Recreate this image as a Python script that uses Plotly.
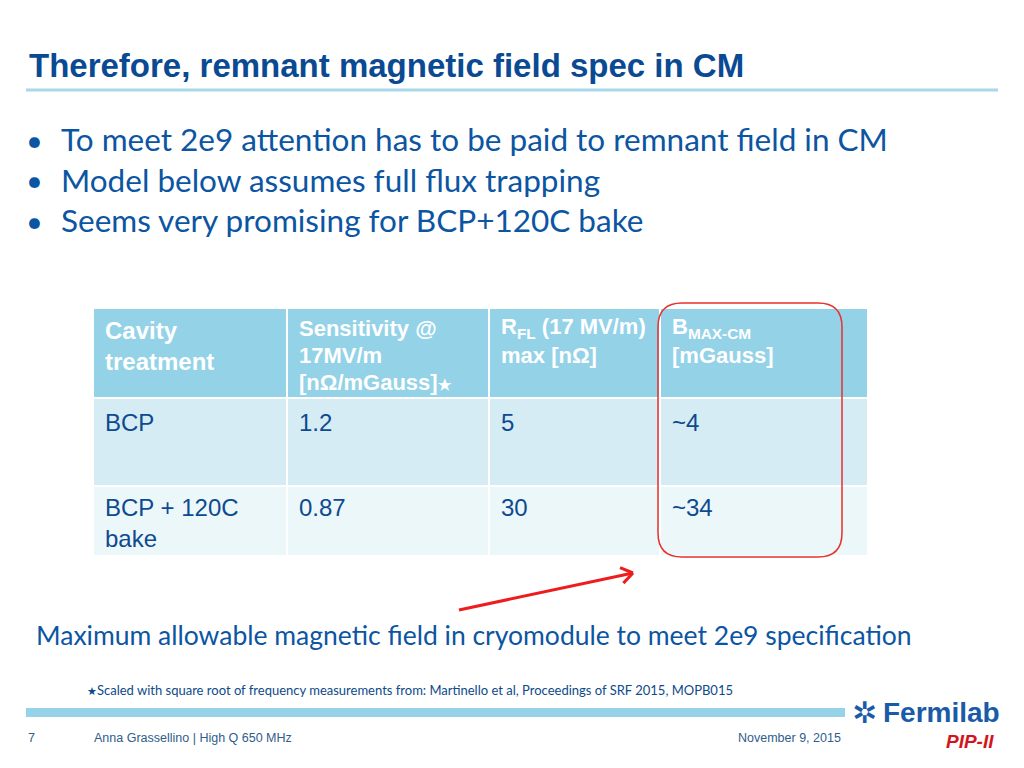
import math
import plotly.graph_objects as go

# ---------------- data ----------------
title_text = "Therefore, remnant magnetic field spec in CM"
bullets = [
    "To meet 2e9 attention has to be paid to remnant field in CM",
    "Model below assumes full flux trapping",
    "Seems very promising for BCP+120C bake",
]
headers = [
    "Cavity<br>treatment",
    "Sensitivity @<br>17MV/m<br>[nΩ/mGauss]<span style='font-size:15px'>★</span>",
    "R<sub>FL</sub> (17 MV/m)<br>max [nΩ]",
    "B<sub>MAX-CM</sub><br>[mGauss]",
]
treatment = ["BCP", "BCP + 120C<br>bake"]
sensitivity = ["1.2", "0.87"]
r_fl_max = ["5", "30"]
b_max_cm = ["~4", "~34"]
caption = "Maximum allowable magnetic field in cryomodule to meet 2e9 specification"
footnote = "<span style='font-size:11px'>★</span>Scaled with square root of frequency measurements from: Martinello et al, Proceedings of SRF 2015, MOPB015"
footer_page = "7"
footer_author = "Anna Grassellino | High Q 650 MHz"
footer_date = "November 9, 2015"

# ---------------- layout geometry (pixels) ----------------
col_edges = [93, 287, 489, 660, 868]
row_edges = [308, 398, 486, 556]

TITLE_BLUE = "#0a4a92"
TEXT_BLUE = "#0b55a2"
CELL_BLUE = "#0d4a90"

fig = go.Figure()

# table background cells
fig.add_trace(go.Heatmap(
    x=col_edges, y=row_edges,
    z=[[0, 0, 0, 0], [1, 1, 1, 1], [2, 2, 2, 2]],
    zmin=0, zmax=2,
    colorscale=[[0, "#94d2e8"], [0.5, "#d6ecf5"], [1, "#ecf7fa"]],
    showscale=False, xgap=2, ygap=2, hoverinfo="skip",
))

ann = []

def add_lines(text, x, y0, spacing, size, color, family="Liberation Sans", bold=False):
    for i, line in enumerate(text.split("<br>")):
        t = f"<b>{line}</b>" if bold else line
        ann.append(dict(x=x, y=y0 + i * spacing, xref="x", yref="y", text=t,
                        showarrow=False, xanchor="left", yanchor="middle",
                        font=dict(family=family, size=size, color=color)))

# header text
pads = [c + 10 for c in col_edges[:-1]]
add_lines(headers[0], pads[0], 330, 31, 24, "white", bold=True)
for j in range(1, 4):
    add_lines(headers[j], pads[j], 328, 27, 22, "white", bold=True)

# body text
rows = [treatment, sensitivity, r_fl_max, b_max_cm]
row_tops = [422, 507]
for j, col in enumerate(rows):
    for i, val in enumerate(col):
        add_lines(val, pads[j], row_tops[i], 31, 24, CELL_BLUE)

# title
ann.append(dict(x=27, y=65, xref="x", yref="y", text=f"<b>{title_text}</b>",
                showarrow=False, xanchor="left", yanchor="middle",
                font=dict(family="Liberation Sans Narrow, Liberation Sans", size=33, color=TITLE_BLUE)))

# bullets
for i, b in enumerate(bullets):
    y = 139 + i * 40.5
    ann.append(dict(x=24, y=y, xref="x", yref="y", text="•", showarrow=False,
                    xanchor="left", yanchor="middle",
                    font=dict(family="Lato", size=29, color=TEXT_BLUE)))
    ann.append(dict(x=59, y=y, xref="x", yref="y", text=b, showarrow=False,
                    xanchor="left", yanchor="middle",
                    font=dict(family="Lato", size=31.5, color=TEXT_BLUE)))

# caption
ann.append(dict(x=34, y=635, xref="x", yref="y", text=caption, showarrow=False,
                xanchor="left", yanchor="middle",
                font=dict(family="Lato", size=26.5, color=TEXT_BLUE)))
# footnote
ann.append(dict(x=85, y=690, xref="x", yref="y", text=footnote, showarrow=False,
                xanchor="left", yanchor="middle",
                font=dict(family="Lato", size=13, color="#0d4a8a")))
# footer
FOOT = "#2f5d8c"
ann.append(dict(x=26, y=738, xref="x", yref="y", text=footer_page, showarrow=False,
                xanchor="left", yanchor="middle", font=dict(family="Liberation Sans", size=12.5, color=FOOT)))
ann.append(dict(x=92, y=738, xref="x", yref="y", text=footer_author, showarrow=False,
                xanchor="left", yanchor="middle", font=dict(family="Liberation Sans", size=12.5, color=FOOT)))
ann.append(dict(x=843, y=738, xref="x", yref="y", text=footer_date, showarrow=False,
                xanchor="right", yanchor="middle", font=dict(family="Liberation Sans", size=12.5, color=FOOT)))
# logo
ann.append(dict(x=850, y=712, xref="x", yref="y", text="<b>✲</b>", showarrow=False,
                xanchor="left", yanchor="middle", font=dict(family="DejaVu Sans", size=30, color="#1a5ba8")))
ann.append(dict(x=881, y=712, xref="x", yref="y", text="<b>Fermilab</b>", showarrow=False,
                xanchor="left", yanchor="middle", font=dict(family="Liberation Sans", size=28, color="#1a5ba8")))
ann.append(dict(x=944, y=741, xref="x", yref="y", text="<b><i>PIP-II</i></b>", showarrow=False,
                xanchor="left", yanchor="middle", font=dict(family="Liberation Sans", size=19, color="#d4141c")))

shapes = []
# title rule
shapes.append(dict(type="line", xref="x", yref="y", x0=26, x1=998, y0=90, y1=90,
                   line=dict(color="#a8d8ea", width=3)))
# bottom bar
shapes.append(dict(type="rect", xref="x", yref="y", x0=26, x1=845, y0=708, y1=717,
                   line=dict(width=0), fillcolor="#96d2e8"))
# red rounded rectangle
x0, x1, y0, y1, r = 658, 842, 303, 557, 24
path = (f"M{x0+r},{y0} L{x1-r},{y0} Q{x1},{y0} {x1},{y0+r} L{x1},{y1-r} Q{x1},{y1} {x1-r},{y1} "
        f"L{x0+r},{y1} Q{x0},{y1} {x0},{y1-r} L{x0},{y0+r} Q{x0},{y0} {x0+r},{y0} Z")
shapes.append(dict(type="path", xref="x", yref="y", path=path,
                   line=dict(color="#e8302c", width=1.5)))
# red arrow
ax0, ay0, ax1, ay1 = 459, 610, 633, 573
shapes.append(dict(type="line", xref="x", yref="y", x0=ax0, y0=ay0, x1=ax1, y1=ay1,
                   line=dict(color="#ee1c1c", width=3)))
ang = math.atan2(ay1 - ay0, ax1 - ax0)
for da in (0.6, -0.6):
    shapes.append(dict(type="line", xref="x", yref="y", x0=ax1, y0=ay1,
                       x1=ax1 - 14 * math.cos(ang + da), y1=ay1 - 14 * math.sin(ang + da),
                       line=dict(color="#ee1c1c", width=3)))

fig.update_layout(
    width=1024, height=768, margin=dict(l=0, r=0, t=0, b=0),
    paper_bgcolor="white", plot_bgcolor="white",
    xaxis=dict(range=[0, 1024], visible=False, fixedrange=True),
    yaxis=dict(range=[768, 0], visible=False, fixedrange=True),
    annotations=ann, shapes=shapes, showlegend=False,
)

fig.write_html("out.html", config={"displayModeBar": False},
               post_script="document.body.style.margin='0';document.body.style.overflow='hidden';")
